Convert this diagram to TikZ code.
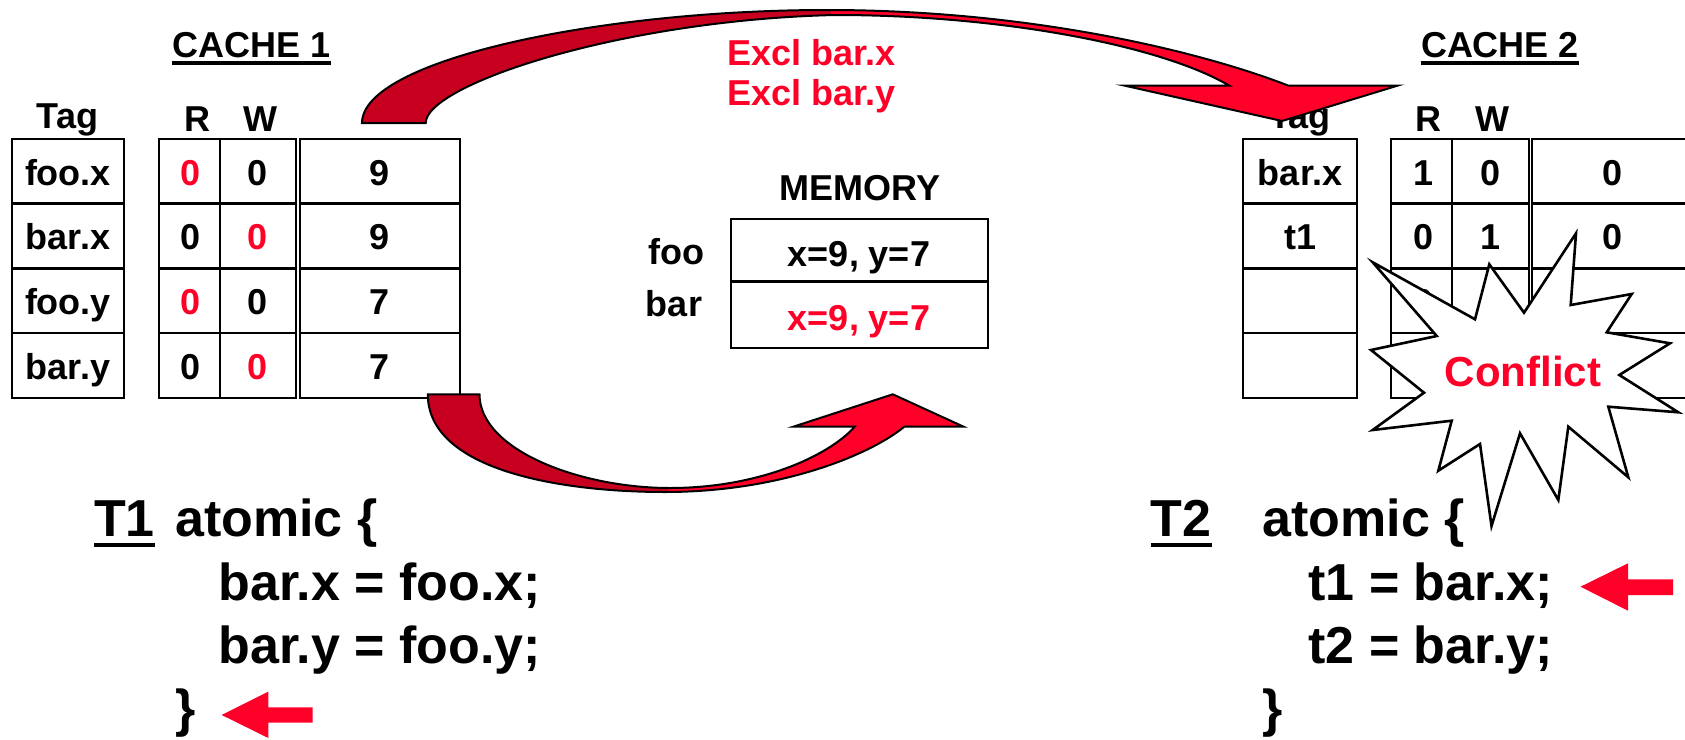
\documentclass[tikz,border=0pt]{standalone}
\usepackage{fontspec}
\setmainfont{Liberation Sans}
\definecolor{hotred}{RGB}{255,0,40}
\definecolor{deepred}{RGB}{200,0,32}
\begin{document}
\begin{tikzpicture}[x=1pt,y=-1pt,
  lbl/.style={inner sep=0pt, anchor=base, font=\fontsize{36}{40}\selectfont\bfseries},
  redlbl/.style={lbl, text=hotred},
  codeln/.style={inner sep=0pt, anchor=base west, font=\fontsize{52}{60}\selectfont\bfseries},
  cellbox/.style={draw, line width=2.5pt},
  bigarrow/.style={draw, line width=2pt, line join=miter},
  marker/.style={fill=hotred},
  burst/.style={draw, fill=white, line width=2.6pt, line join=miter}]

% canvas
\fill[white] (0,0) rectangle (1685,739);
\useasboundingbox (0,0) rectangle (1685,739);
\clip (0,0) rectangle (1685,739);

% ---------------- cache 1 ----------------
\node[lbl] (c1title) at (251.5,57) {CACHE 1};
\draw[line width=3.7pt] ([yshift=-6pt]c1title.base west) -- ([yshift=-6pt]c1title.base east);
\node[lbl] (c1tag) at (67.5,128) {Tag};
\node[lbl] (c1r) at (197,131.5) {R};
\node[lbl] (c1w) at (260,131.5) {W};
\foreach \t/\b in {139/203.7, 203.7/268.5, 268.5/333.2, 333.2/398}{
  \draw[cellbox] (12,\t) rectangle (124,\b);
  \draw[cellbox] (159,\t) rectangle (220,\b);
  \draw[cellbox] (220,\t) rectangle (296,\b);
  \draw[cellbox] (300,\t) rectangle (460,\b);
}
\node[lbl]    (c1t1) at (68,185)    {foo.x};
\node[redlbl] (c1r1) at (191,185)   {0};
\node[lbl]    (c1w1) at (258,185)   {0};
\node[lbl]    (c1v1) at (380,185)   {9};
\node[lbl]    (c1t2) at (68,249.7)  {bar.x};
\node[lbl]    (c1r2) at (191,249.7) {0};
\node[redlbl] (c1w2) at (258,249.7) {0};
\node[lbl]    (c1v2) at (380,249.7) {9};
\node[lbl]    (c1t3) at (68,314.5)  {foo.y};
\node[redlbl] (c1r3) at (191,314.5) {0};
\node[lbl]    (c1w3) at (258,314.5) {0};
\node[lbl]    (c1v3) at (380,314.5) {7};
\node[lbl]    (c1t4) at (68,379.2)  {bar.y};
\node[lbl]    (c1r4) at (191,379.2) {0};
\node[redlbl] (c1w4) at (258,379.2) {0};
\node[lbl]    (c1v4) at (380,379.2) {7};

% ---------------- cache 2 ----------------
\node[lbl] (c2title) at (1500,57) {CACHE 2};
\draw[line width=3.7pt] ([yshift=-6pt]c2title.base west) -- ([yshift=-6pt]c2title.base east);
\node[lbl] (c2tag) at (1300,128) {Tag};
\node[lbl] (c2r) at (1428,131.5) {R};
\node[lbl] (c2w) at (1492,131.5) {W};
\foreach \t/\b in {139/203.7, 203.7/268.5, 268.5/333.2, 333.2/398}{
  \draw[cellbox] (1243,\t) rectangle (1357,\b);
  \draw[cellbox] (1391,\t) rectangle (1452,\b);
  \draw[cellbox] (1452,\t) rectangle (1529,\b);
  \draw[cellbox] (1532,\t) rectangle (1692,\b);
}
\node[lbl] (c2t1) at (1300,185)   {bar.x};
\node[lbl] (c2r1) at (1423,185)   {1};
\node[lbl] (c2w1) at (1490,185)   {0};
\node[lbl] (c2v1) at (1612,185)   {0};
\node[lbl] (c2t2) at (1300,249.7) {t1};
\node[lbl] (c2r2) at (1423,249.7) {0};
\node[lbl] (c2w2) at (1490,249.7) {1};
\node[lbl] (c2v2) at (1612,249.7) {0};
\node[lbl] (c2r3) at (1423,314.5) {0};

% ---------------- memory ----------------
\node[lbl] (memtitle) at (860,200) {MEMORY};
\draw[cellbox] (731,219) rectangle (988,281.7);
\draw[cellbox] (731,281.7) rectangle (988,348);
\node[lbl]    (foo)    at (676,264.3) {foo};
\node[lbl]    (bar)    at (674,316.7) {bar};
\node[lbl]    (fooval) at (859,266)   {x=9, y=7};
\node[redlbl] (barval) at (859,330)   {x=9, y=7};

% ---------------- message text ----------------
\node[redlbl] (excl1) at (811.5,65)  {Excl bar.x};
\node[redlbl] (excl2) at (811.5,105) {Excl bar.y};

% ---------------- curved block arrows ----------------
\def\toparrow{(362,123) .. controls (362,60) and (600,10) .. (827,10)
  .. controls (1040,10) and (1210,55) .. (1288,85.5)
  -- (1398,85.5) -- (1282,121) -- (1124,85.5) -- (1229,85.5)
  .. controls (1160,45) and (1000,15) .. (835,15)
  .. controls (620,20) and (425.7,85) .. (425.7,123) -- cycle}
\begin{scope}
  \clip (0,0) rectangle (831,200);
  \fill[deepred] \toparrow;
\end{scope}
\begin{scope}
  \clip (831,0) rectangle (1685,200);
  \fill[hotred] \toparrow;
\end{scope}
\path[bigarrow] \toparrow;

\def\botarrow{(427.8,394.3) .. controls (427.8,470) and (560,492) .. (665,492)
  .. controls (780,492) and (870,455) .. (904.3,426.7)
  -- (963.6,426.7) -- (892.8,394.3) -- (793.3,426.7) -- (854.6,426.7)
  .. controls (830,455) and (760,488) .. (670,488)
  .. controls (580,488) and (479.5,450) .. (479.5,394.3) -- cycle}
\begin{scope}
  \clip (0,380) rectangle (668,520);
  \fill[deepred] \botarrow;
\end{scope}
\begin{scope}
  \clip (668,380) rectangle (1000,520);
  \fill[hotred] \botarrow;
\end{scope}
\path[bigarrow] \botarrow;

% ---------------- conflict burst ----------------
\path[burst] (1372.7,262.3) -- (1475,319.3) -- (1489.3,264.3) -- (1524,312.7)
  -- (1576,233.3) -- (1570.7,305) -- (1631.7,294) -- (1606.7,332.3)
  -- (1670,343.3) -- (1619.3,375) -- (1678.3,412.3) -- (1608.3,406.7)
  -- (1628.3,477.3) -- (1568.3,426.7) -- (1558.3,500) -- (1520,433.3)
  -- (1491.5,526) -- (1480,444) -- (1438.3,470.7) -- (1451.7,420.7)
  -- (1372.7,430) -- (1424,392.7) -- (1371,350) -- (1436.7,336) -- cycle;
\node[inner sep=0pt, anchor=base, text=hotred, font=\fontsize{42}{46}\selectfont\bfseries]
  (conflict) at (1523,386.7) {Conflict};

% ---------------- transaction T1 ----------------
\node[codeln] (t1name) at (94,536.7) {T1};
\draw[line width=4.7pt] ([yshift=-8.3pt]t1name.base west) -- ([yshift=-8.3pt]t1name.base east);
\node[codeln] (t1open) at (175,536.7) {atomic \{};
\node[codeln] (t1a)    at (218.5,600) {bar.x = foo.x;};
\node[codeln] (t1b)    at (218.5,663.3) {bar.y = foo.y;};
\node[codeln] (t1end)  at (175,726.7) {\}};
\fill[marker] (221.7,715) -- (268.3,691.7) -- (268.3,707.3) -- (312.7,707.3)
  -- (312.7,722.7) -- (268.3,722.7) -- (268.3,738) -- cycle;

% ---------------- transaction T2 ----------------
\node[codeln] (t2name) at (1150.7,536.7) {T2};
\draw[line width=4.7pt] ([yshift=-8.3pt]t2name.base west) -- ([yshift=-8.3pt]t2name.base east);
\node[codeln] (t2open) at (1262.3,536.7) {atomic \{};
\node[codeln] (t2a)    at (1308.3,600) {t1 = bar.x;};
\node[codeln] (t2b)    at (1308.3,663.3) {t2 = bar.y;};
\node[codeln] (t2end)  at (1262.5,726.7) {\}};
\fill[marker] (1580.5,586.7) -- (1628,563.3) -- (1628,579.3) -- (1673,579.3)
  -- (1673,595) -- (1628,595) -- (1628,610.7) -- cycle;
\end{tikzpicture}
\end{document}
